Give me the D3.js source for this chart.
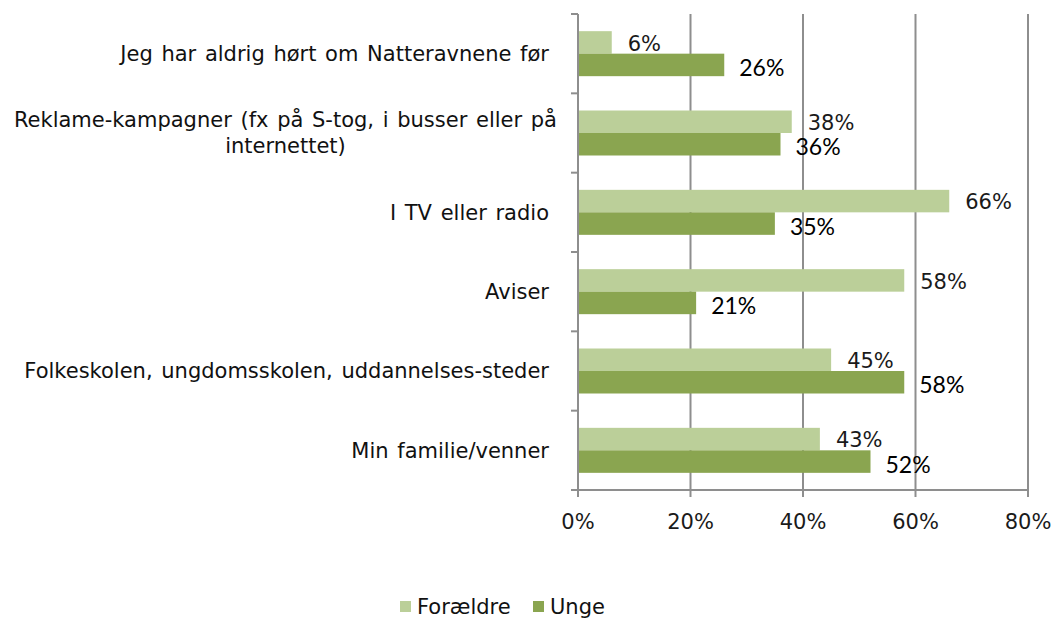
<!DOCTYPE html>
<html>
<head>
<meta charset="utf-8">
<script src="https://cdn.jsdelivr.net/npm/d3@7"></script>
<style>
  body { margin: 0; background: #fff; }
  svg text { font-family: "DejaVu Sans", Verdana, sans-serif; }
</style>
</head>
<body>
<svg class="viz" width="1054" height="619"></svg>
<script>
// data
var categories = [
  ["Jeg har aldrig hørt om Natteravnene før"],
  ["Reklame-kampagner (fx på S-tog, i busser eller på", "internettet)"],
  ["I TV eller radio"],
  ["Aviser"],
  ["Folkeskolen, ungdomsskolen, uddannelses-steder"],
  ["Min familie/venner"]
];
var foraeldre = [6, 38, 66, 58, 45, 43];
var unge = [26, 36, 35, 21, 58, 52];
var seriesNames = ["Forældre", "Unge"];
var xTicks = [0, 20, 40, 60, 80];

var colLight = "#bbcf99", colDark = "#8aa550", gridCol = "#8e8e8e";

var svg = d3.select(".viz"),
    margin = {top: 14, left: 578, right: 26, bottom: 129},
    width = 1054 - margin.left - margin.right,
    height = 619 - margin.top - margin.bottom;

var g = svg.append("g").attr("transform", "translate(" + margin.left + "," + margin.top + ")");

var scaleX = d3.scaleLinear().domain([0, 80]).range([0, width]);
var scaleY = d3.scaleBand().domain(d3.range(categories.length)).range([0, height]);
var barH = 22.5;
var off = (scaleY.bandwidth() - 2 * barH) / 2;

// gridlines
g.selectAll(".grid").data(xTicks.slice(1)).enter().append("line")
  .attr("x1", function (d) { return scaleX(d); })
  .attr("x2", function (d) { return scaleX(d); })
  .attr("y1", 0).attr("y2", height)
  .style("stroke", gridCol).style("stroke-width", "2px");

// bars
var rows = d3.range(categories.length).map(function (i) {
  return {i: i, f: foraeldre[i], u: unge[i]};
});

g.selectAll(".barF").data(rows).enter().append("rect")
  .attr("x", 0)
  .attr("y", function (d) { return scaleY(d.i) + off; })
  .attr("width", function (d) { return scaleX(d.f); })
  .attr("height", barH)
  .attr("fill", colLight);

g.selectAll(".barU").data(rows).enter().append("rect")
  .attr("x", 0)
  .attr("y", function (d) { return scaleY(d.i) + off + barH; })
  .attr("width", function (d) { return scaleX(d.u); })
  .attr("height", barH)
  .attr("fill", colDark);

// value labels
g.selectAll(".lblF").data(rows).enter().append("text")
  .attr("x", function (d) { return scaleX(d.f) + 16; })
  .attr("y", function (d) { return scaleY(d.i) + off + barH / 2 + 1; })
  .attr("dy", "0.35em")
  .style("font-size", "21px").attr("fill", "#1a1a1a")
  .text(function (d) { return d.f + "%"; });

g.selectAll(".lblU").data(rows).enter().append("text")
  .attr("x", function (d) { return scaleX(d.u) + 15; })
  .attr("y", function (d) { return scaleY(d.i) + off + barH * 1.5 + 3; })
  .attr("dy", "0.35em")
  .style("font-family", "Lato, 'Open Sans', sans-serif")
  .style("font-size", "23px").attr("fill", "#000")
  .text(function (d) { return d.u + "%"; });

// y axis
g.append("line").attr("x1", 0).attr("x2", 0).attr("y1", 0).attr("y2", height)
  .style("stroke", gridCol).style("stroke-width", "2px");
g.selectAll(".ytick").data(d3.range(categories.length + 1)).enter().append("line")
  .attr("x1", -7).attr("x2", 0)
  .attr("y1", function (d) { return d * scaleY.step(); })
  .attr("y2", function (d) { return d * scaleY.step(); })
  .style("stroke", gridCol).style("stroke-width", "2px");

// category labels
categories.forEach(function (lines, i) {
  var cy = scaleY(i) + scaleY.bandwidth() / 2;
  var lh = 26;
  var t = svg.append("text")
    .style("font-size", "21px").style("word-spacing", "2px").attr("fill", "#111");
  lines.forEach(function (s, k) {
    t.append("tspan").text(s)
      .attr("y", margin.top + cy + (k - (lines.length - 1) / 2) * lh)
      .attr("dy", "0.35em");
  });
  if (lines.length === 1) {
    t.attr("text-anchor", "end").selectAll("tspan").attr("x", margin.left - 29);
  } else {
    var w = t.select("tspan").node().getComputedTextLength();
    t.attr("text-anchor", "middle").selectAll("tspan").attr("x", margin.left - 21 - w / 2);
  }
});

// x axis
g.append("line").attr("x1", -7).attr("x2", width).attr("y1", height).attr("y2", height)
  .style("stroke", gridCol).style("stroke-width", "2px");
g.selectAll(".xtick").data(xTicks).enter().append("line")
  .attr("x1", function (d) { return scaleX(d); })
  .attr("x2", function (d) { return scaleX(d); })
  .attr("y1", height).attr("y2", height + 7)
  .style("stroke", gridCol).style("stroke-width", "2px");
g.selectAll(".xlbl").data(xTicks).enter().append("text")
  .attr("x", function (d) { return scaleX(d); })
  .attr("y", height + 32)
  .attr("dy", "0.35em")
  .attr("text-anchor", "middle")
  .style("font-size", "21px").attr("fill", "#1a1a1a")
  .text(function (d) { return d + "%"; });

// legend
var legend = svg.append("g").attr("transform", "translate(400,601)");
var legX = [0, 133];
seriesNames.forEach(function (name, i) {
  legend.append("rect").attr("x", legX[i]).attr("y", 0).attr("width", 11).attr("height", 11)
    .attr("fill", i === 0 ? colLight : colDark);
  legend.append("text").attr("x", legX[i] + 17).attr("y", 6).attr("dy", "0.35em")
    .style("font-size", "21px").attr("fill", "#111").text(name);
});
</script>
</body>
</html>
